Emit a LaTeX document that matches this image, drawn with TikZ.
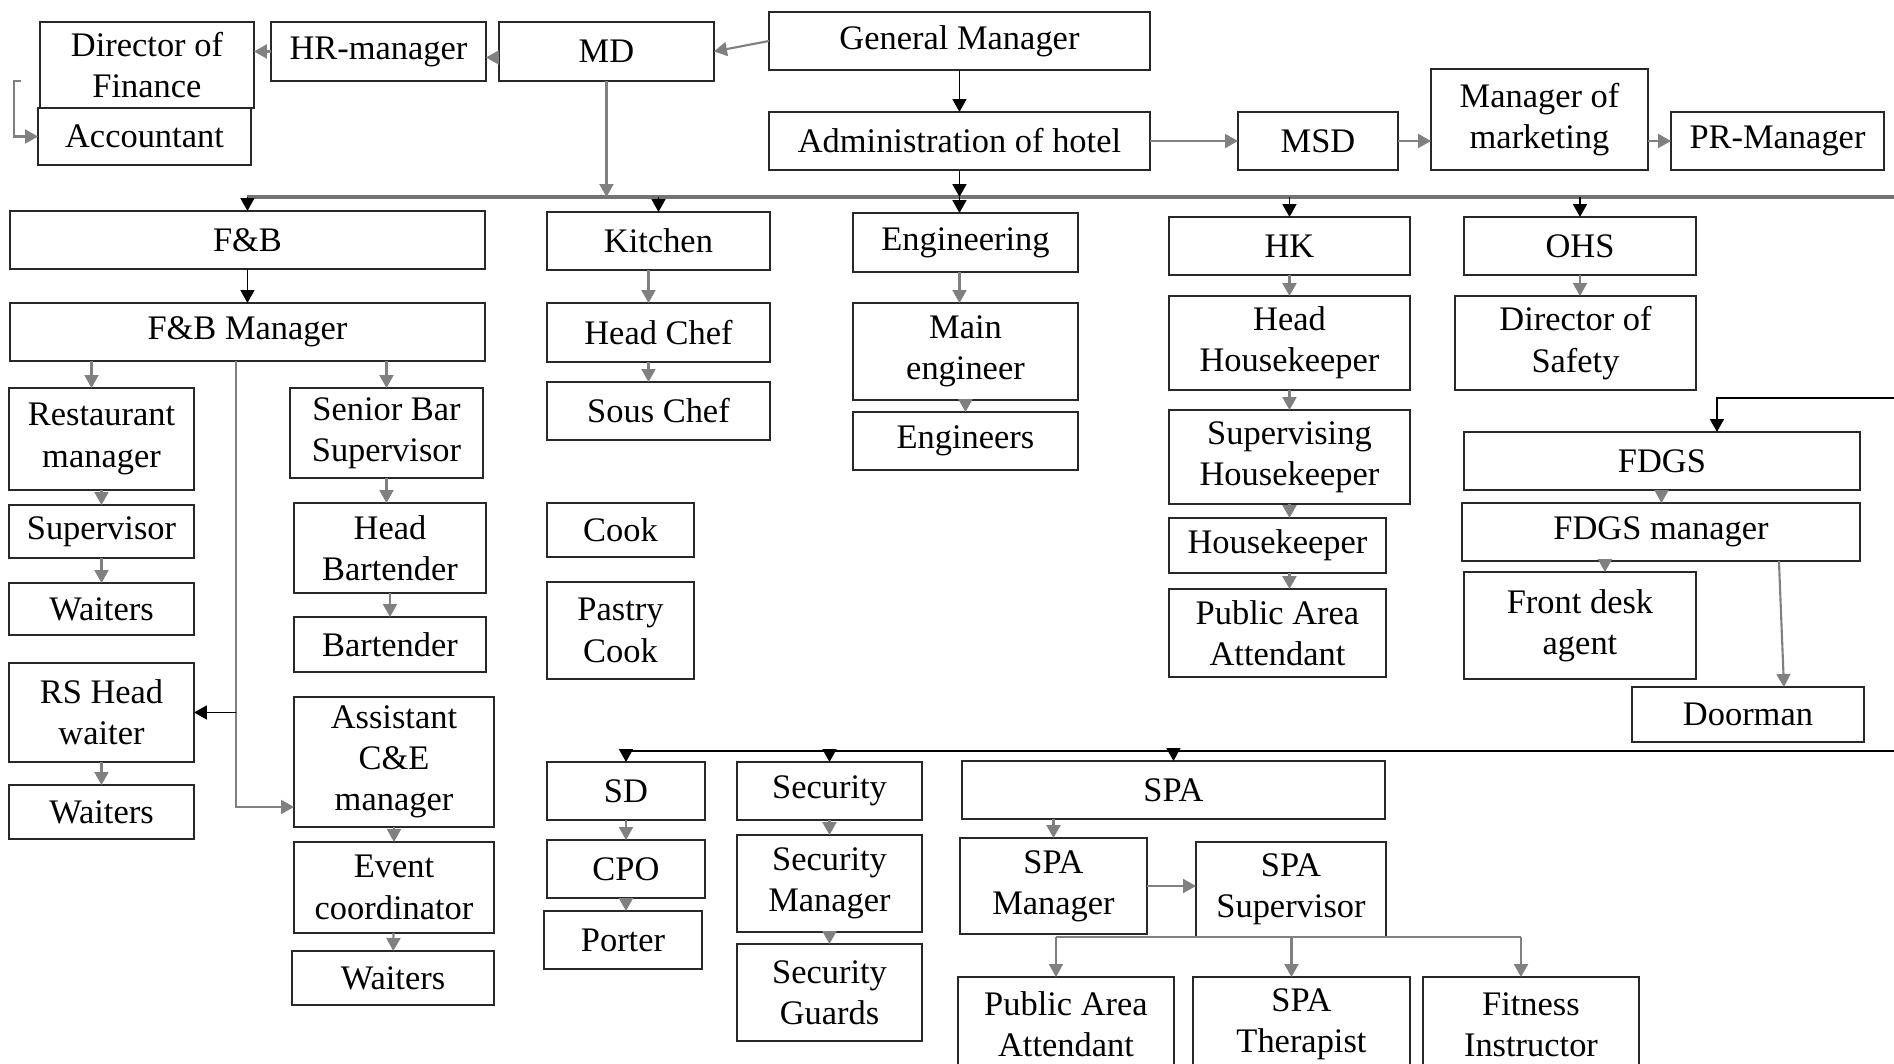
\documentclass[tikz,border=0pt]{standalone}
\usepackage{fontspec}
\setmainfont{Liberation Serif}
\usetikzlibrary{arrows.meta}
\definecolor{linkgray}{RGB}{128,128,128}
\definecolor{boxline}{RGB}{40,40,40}
\tikzstyle{box} = [draw=boxline, line width=1.1pt, rectangle, anchor=north west, align=center, inner sep=0pt, outer sep=0pt, font=\fontsize{19.6}{23.5}\selectfont]
\tikzstyle{link} = [-{Triangle[length=2.6mm, width=2.8mm]}, linkgray, line width=1.2pt]
\tikzstyle{link line} = [linkgray, line width=1.2pt]
\tikzstyle{main} = [-{Triangle[length=2.6mm, width=2.8mm]}, black, line width=1pt]
\tikzstyle{rail} = [black!55, line width=1.8pt]
\tikzstyle{low rail} = [black, line width=1pt]

\begin{document}
\begin{tikzpicture}[x=0.02cm, y=-0.02cm]
    \useasboundingbox (0,0) rectangle (1894,1064);
    \clip (0,0) rectangle (1894,1064);

    % Top management.
    \node (dof) [box, minimum width=4.28cm, minimum height=1.72cm] at (40,22) {Director of\\Finance};
    \node (acc) [box, minimum width=4.26cm, minimum height=1.14cm] at (38,108) {Accountant};
    \node (hr) [box, minimum width=4.30cm, minimum height=1.18cm] at (271,22) {HR-manager};
    \node (md) [box, minimum width=4.30cm, minimum height=1.18cm] at (499,22) {MD};
    \node (gm) [box, minimum width=7.62cm, minimum height=1.16cm] at (769,12) {General Manager};
    \node (admin) [box, minimum width=7.62cm, minimum height=1.16cm] at (769,112) {Administration of hotel};
    \node (msd) [box, minimum width=3.20cm, minimum height=1.16cm] at (1238,112) {MSD};
    \node (mkt) [box, minimum width=4.34cm, minimum height=2.02cm] at (1431,69) {Manager of\\marketing};
    \node (pr) [box, minimum width=4.26cm, minimum height=1.16cm] at (1671,112) {PR-Manager};

    % F&B.
    \node (fb) [box, minimum width=9.50cm, minimum height=1.16cm] at (10,211) {F\&B};
    \node (fbm) [box, minimum width=9.50cm, minimum height=1.16cm] at (10,303) {F\&B Manager};
    \node (rest) [box, minimum width=3.70cm, minimum height=2.04cm] at (9,388) {Restaurant\\manager};
    \node (sup) [box, minimum width=3.70cm, minimum height=1.06cm] at (9,505) {Supervisor};
    \node (wait 1) [box, minimum width=3.70cm, minimum height=1.04cm] at (9,583) {Waiters};
    \node (rshw) [box, minimum width=3.70cm, minimum height=1.98cm] at (9,663) {RS Head\\waiter};
    \node (wait 2) [box, minimum width=3.70cm, minimum height=1.08cm] at (9,785) {Waiters};
    \node (sbs) [box, minimum width=3.86cm, minimum height=1.80cm] at (290,388) {Senior Bar\\Supervisor};
    \node (hb) [box, minimum width=3.84cm, minimum height=1.80cm] at (294,503) {Head\\Bartender};
    \node (bt) [box, minimum width=3.84cm, minimum height=1.10cm] at (294,617) {Bartender};
    \node (ace) [box, minimum width=4.00cm, minimum height=2.60cm] at (294,697) {Assistant\\C\&E\\manager};
    \node (ec) [box, minimum width=4.00cm, minimum height=1.82cm] at (294,842) {Event\\coordinator};
    \node (wait 3) [box, minimum width=4.04cm, minimum height=1.08cm] at (292,951) {Waiters};

    % Kitchen and engineering.
    \node (kit) [box, minimum width=4.46cm, minimum height=1.16cm] at (547,212) {Kitchen};
    \node (hc) [box, minimum width=4.46cm, minimum height=1.18cm] at (547,303) {Head Chef};
    \node (sc) [box, minimum width=4.46cm, minimum height=1.16cm] at (547,382) {Sous Chef};
    \node (cook) [box, minimum width=2.94cm, minimum height=1.08cm] at (547,503) {Cook};
    \node (pastry) [box, minimum width=2.94cm, minimum height=1.94cm] at (547,582) {Pastry\\Cook};
    \node (eng) [box, minimum width=4.50cm, minimum height=1.18cm] at (853,213) {Engineering};
    \node (me) [box, minimum width=4.50cm, minimum height=1.94cm] at (853,303) {Main\\engineer};
    \node (engs) [box, minimum width=4.50cm, minimum height=1.16cm] at (853,412) {Engineers};

    % HK, OHS and FDGS.
    \node (hk) [box, minimum width=4.82cm, minimum height=1.16cm] at (1169,217) {HK};
    \node (hhk) [box, minimum width=4.82cm, minimum height=1.88cm] at (1169,296) {Head\\Housekeeper};
    \node (shk) [box, minimum width=4.82cm, minimum height=1.88cm] at (1169,410) {Supervising\\Housekeeper};
    \node (hkp) [box, minimum width=4.34cm, minimum height=1.10cm] at (1169,518) {Housekeeper};
    \node (paa 1) [box, minimum width=4.34cm, minimum height=1.76cm] at (1169,589) {Public Area\\Attendant};
    \node (ohs) [box, minimum width=4.64cm, minimum height=1.16cm] at (1464,217) {OHS};
    \node (dos) [box, minimum width=4.82cm, minimum height=1.88cm] at (1455,296) {Director of\\Safety};
    \node (fdgs) [box, minimum width=7.92cm, minimum height=1.16cm] at (1464,432) {FDGS};
    \node (fdgsm) [box, minimum width=7.96cm, minimum height=1.16cm] at (1462,503) {FDGS manager};
    \node (fda) [box, minimum width=4.64cm, minimum height=2.14cm] at (1464,572) {Front desk\\agent};
    \node (door) [box, minimum width=4.64cm, minimum height=1.10cm] at (1632,687) {Doorman};

    % SD, security and SPA.
    \node (sd) [box, minimum width=3.16cm, minimum height=1.16cm] at (547,762) {SD};
    \node (cpo) [box, minimum width=3.16cm, minimum height=1.16cm] at (547,840) {CPO};
    \node (porter) [box, minimum width=3.16cm, minimum height=1.16cm] at (544,911) {Porter};
    \node (sec) [box, minimum width=3.70cm, minimum height=1.16cm] at (737,762) {Security};
    \node (secm) [box, minimum width=3.70cm, minimum height=1.94cm] at (737,835) {Security\\Manager};
    \node (secg) [box, minimum width=3.70cm, minimum height=1.94cm] at (737,944) {Security\\Guards};
    \node (spa) [box, minimum width=8.46cm, minimum height=1.16cm] at (962,761) {SPA};
    \node (spam) [box, minimum width=3.74cm, minimum height=1.92cm] at (960,838) {SPA\\Manager};
    \node (spas) [box, minimum width=3.80cm, minimum height=1.90cm] at (1196,842) {SPA\\Supervisor};
    \node (paa 2) [box, minimum width=4.32cm, minimum height=1.90cm] at (958,977) {Public Area\\Attendant};
    \node (ther) [box, minimum width=4.34cm, minimum height=1.90cm] at (1193,977) {SPA\\Therapist};
    \node (fit) [box, minimum width=4.32cm, minimum height=1.90cm] at (1423,977) {Fitness\\Instructor};

    % Coordinates.
    \coordinate (acc hook) at (21,81);
    \coordinate (rail end) at (1894,197);
    \coordinate (fdgs feed) at (1894,398);
    \coordinate (low rail end) at (1894,751);
    \coordinate (fb spine) at ([xshift=-0.23cm]fbm.south);

    % Paths.

    % Top management.
    \draw [link] (gm.west) -- (md.east);
    \draw [link] ([yshift=-0.12cm]md.west) -- ([yshift=-0.12cm]hr.east);
    \draw [link] (hr.west) -- (dof.east |- hr.west);
    \draw [link] (acc hook) -- ++(-7,0) |- (acc.west);
    \draw [main] (gm) -- (admin);
    \draw [link] (admin) -- (msd);
    \draw [link] (msd.east) -- (mkt.west |- msd.east);
    \draw [link] (mkt.east |- pr.west) -- (pr.west);

    % Department rail.
    \draw [rail] (fb.north |- rail end) -- (rail end);
    \draw [link] (md.south) -- (md.south |- rail end);
    \draw [main] (admin.south) -- (admin.south |- rail end);
    \draw [main] (admin.south |- rail end) -- (admin.south |- eng.north);
    \foreach \d in {fb, kit, hk, ohs} {%
        \draw [main] (\d.north |- rail end) -- (\d.north);
    }

    % F&B.
    \draw [main] (fb) -- (fbm);
    \draw [link] ([xshift=-0.2cm]rest.north |- fbm.south) -- ([xshift=-0.2cm]rest.north);
    \draw [link] (sbs.north |- fbm.south) -- (sbs.north);
    \draw [link] (rest) -- (sup);
    \draw [link] (sup) -- (wait 1);
    \draw [link] (rshw) -- (wait 2);
    \draw [link] (sbs.south) -- (sbs.south |- hb.north);
    \draw [link] (hb) -- (bt);
    \draw [link] (ace) -- (ec);
    \draw [link] (ec) -- (wait 3);
    \draw [link] (fb spine) |- ([yshift=-0.9cm]ace.west);
    \draw [main] (fb spine |- rshw.east) -- (rshw.east);

    % Kitchen and engineering.
    \draw [link] ([xshift=-0.2cm]kit.south) -- ([xshift=-0.2cm]hc.north);
    \draw [link] ([xshift=-0.2cm]hc.south) -- ([xshift=-0.2cm]sc.north);
    \draw [link] ([xshift=-0.12cm]eng.south) -- ([xshift=-0.12cm]me.north);
    \draw [link] (me) -- (engs);

    % HK, OHS and FDGS.
    \draw [link] (hk) -- (hhk);
    \draw [link] (hhk) -- (shk);
    \draw [link] (shk.south) -- (shk.south |- hkp.north);
    \draw [link] (shk.south |- hkp.south) -- (shk.south |- paa 1.north);
    \draw [link] (ohs.south) -- (ohs.south |- dos.north);
    \draw [main] (fdgs feed) -| ([xshift=1.1cm]fdgs.north);
    \draw [link] (fdgs) -- (fdgsm);
    \draw [link] ([xshift=0.5cm]fda.north |- fdgsm.south) -- ([xshift=0.5cm]fda.north);
    \draw [link] ([xshift=2.36cm]fdgsm.south) -- ([xshift=0.72cm]door.north);

    % Lower rail.
    \draw [low rail] (sd.north |- low rail end) -- (low rail end);
    \foreach \d in {sd, sec, spa} {%
        \draw [main] (\d.north |- low rail end) -- (\d.north);
    }
    \draw [link] (sd) -- (cpo);
    \draw [link] (cpo.south) -- (cpo.south |- porter.north);
    \draw [link] (sec) -- (secm);
    \draw [link] (secm) -- (secg);
    \draw [link] (spa.south -| spam.north) -- (spam.north);
    \draw [link] (spam.east) -- (spas.west |- spam.east);
    \draw [link line] ([xshift=-0.2cm]paa 2.north |- spas.south) -- ([xshift=-0.2cm]fit.north |- spas.south);
    \foreach \d in {paa 2, ther, fit} {%
        \draw [link] ([xshift=-0.2cm]\d.north |- spas.south) -- ([xshift=-0.2cm]\d.north);
    }
\end{tikzpicture}
\end{document}
